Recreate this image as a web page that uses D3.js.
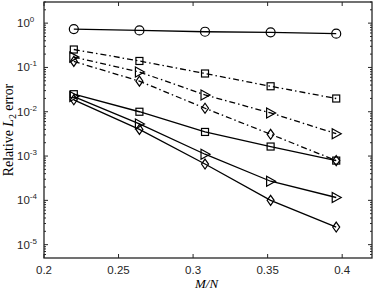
<!DOCTYPE html>
<html>
<head>
<meta charset="utf-8">
<script src="https://cdn.jsdelivr.net/npm/d3@7"></script>
<style>
  body { margin: 0; background: #fff; }
</style>
</head>
<body>
<script>
var W = 374, H = 294;
var margin = {top: 2, right: 2, bottom: 36, left: 44};

// M/N values
var ratio = [0.22, 0.264, 0.308, 0.352, 0.396];

// errors, dash-dot series
var dashSquare  = [0.254, 0.14, 0.073, 0.0376, 0.0199];
var dashTri     = [0.171, 0.079, 0.024, 0.0094, 0.0032];
var dashDiamond = [0.137, 0.049, 0.012, 0.0031, 0.00079];
// errors, solid series
var solidCircle  = [0.735, 0.684, 0.64, 0.62, 0.578];
var solidSquare  = [0.0249, 0.01, 0.0035, 0.00164, 0.00079];
var solidTri     = [0.022, 0.0053, 0.0011, 0.00027, 0.000116];
var solidDiamond = [0.0186, 0.004, 0.00066, 0.0001, 0.000025];

var xTicks = [0.2, 0.25, 0.3, 0.35, 0.4];
var yExps = [0, -1, -2, -3, -4, -5];

var series = [
  {v: dashSquare, m: "square", dash: true},
  {v: dashTri, m: "tri", dash: true},
  {v: dashDiamond, m: "diamond", dash: true},
  {v: solidCircle, m: "circle", dash: false},
  {v: solidSquare, m: "square", dash: false},
  {v: solidTri, m: "tri", dash: false},
  {v: solidDiamond, m: "diamond", dash: false}
];

var sans = "'Liberation Sans', Helvetica, Arial, sans-serif";
var serif = "'Liberation Serif', 'DejaVu Serif', serif";

var svg = d3.select("body").append("svg")
    .attr("width", W).attr("height", H);

var x = d3.scaleLinear().domain([0.2, 0.42]).range([margin.left, W - margin.right]);
var y = d3.scaleLog().domain([5e-6, 3]).range([H - margin.bottom, margin.top]);

var x0 = margin.left, x1 = W - margin.right, y0 = H - margin.bottom, y1 = margin.top;

var g = svg.append("g");

// ticks (inward, box style)
xTicks.forEach(function(t) {
  g.append("line").attr("x1", x(t)).attr("x2", x(t)).attr("y1", y0).attr("y2", y0 - 4)
    .attr("stroke", "#262626").attr("stroke-width", 1);
  g.append("line").attr("x1", x(t)).attr("x2", x(t)).attr("y1", y1).attr("y2", y1 + 4)
    .attr("stroke", "#262626").attr("stroke-width", 1);
  g.append("text").attr("x", x(t)).attr("y", y0 + 16)
    .attr("text-anchor", "middle").attr("font-size", 11.5).attr("fill", "#262626")
    .attr("font-family", sans)
    .text(d3.format("")(t));
});

// minor log ticks
for (var e = -6; e <= 0; e++) {
  for (var k = 1; k < 10; k++) {
    var val = k * Math.pow(10, e);
    if (val < 5e-6 || val > 3) continue;
    var len = k === 1 ? 4 : 2;
    [[x0, 1], [x1, -1]].forEach(function(s) {
      g.append("line").attr("x1", s[0]).attr("x2", s[0] + s[1] * len)
        .attr("y1", y(val)).attr("y2", y(val))
        .attr("stroke", "#262626").attr("stroke-width", 1);
    });
  }
}

yExps.forEach(function(ex) {
  var t = g.append("text").attr("x", x0 - 27).attr("y", y(Math.pow(10, ex)) + 4)
    .attr("font-size", 11.5).attr("fill", "#262626").attr("font-family", sans);
  t.append("tspan").text("10");
  t.append("tspan").attr("dy", -5).attr("font-size", 8).text(ex);
});

// frame
g.append("rect").attr("x", x0).attr("y", y1).attr("width", x1 - x0).attr("height", y0 - y1)
  .attr("fill", "none").attr("stroke", "#262626").attr("stroke-width", 1.3);

// lines
var line = d3.line().x(function(d, i) { return x(ratio[i]); }).y(function(d) { return y(d); });

series.forEach(function(s) {
  g.append("path").attr("d", line(s.v)).attr("fill", "none")
    .attr("stroke", "#000").attr("stroke-width", 1.3)
    .attr("stroke-dasharray", s.dash ? "6,3,1.5,3" : null);
});

function marker(sel, m) {
  if (m === "circle") {
    sel.append("circle").attr("r", 4.5);
  } else if (m === "square") {
    sel.append("rect").attr("x", -3.5).attr("y", -3.5).attr("width", 7).attr("height", 7);
  } else if (m === "tri") {
    sel.append("path").attr("d", "M-4,-5L5,0L-4,5Z");
  } else {
    sel.append("path").attr("d", "M0,-5L3.5,0L0,5L-3.5,0Z");
  }
}

series.forEach(function(s) {
  s.v.forEach(function(d, i) {
    var mk = g.append("g").attr("transform", "translate(" + x(ratio[i]) + "," + y(d) + ")")
      .attr("fill", "none").attr("stroke", "#000").attr("stroke-width", 1.2);
    marker(mk, s.m);
  });
});

// axis labels
svg.append("text").attr("x", x(0.309)).attr("y", H - 6)
  .attr("text-anchor", "middle").attr("font-size", 13)
  .attr("font-family", serif).attr("font-style", "italic")
  .text("M/N");

var yl = svg.append("text").attr("transform", "translate(13," + ((y0 + y1) / 2) + ") rotate(-90)")
  .attr("text-anchor", "middle").attr("font-size", 13.8)
  .attr("font-family", serif);
yl.append("tspan").text("Relative ");
yl.append("tspan").attr("font-style", "italic").text("L");
yl.append("tspan").attr("font-size", 10).attr("dy", 3).text("2");
yl.append("tspan").attr("dy", -3).text(" error");
</script>
</body>
</html>
